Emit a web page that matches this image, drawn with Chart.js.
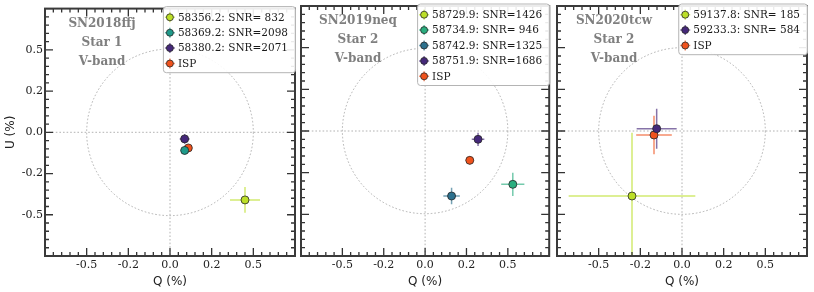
<!DOCTYPE html>
<html>
<head>
<meta charset="utf-8">
<script src="https://cdn.jsdelivr.net/npm/chart.js@4/dist/chart.umd.min.js"></script>
<style>
    html, body { margin: 0; padding: 0; background: #fff; }
    #wrap { position: relative; width: 814px; height: 292px; overflow: hidden; }
    canvas { position: absolute; top: 0; }
</style>
</head>
<body>
<div id="wrap">
    <canvas id="ffjChart" width="300" height="292" style="left:0px"></canvas>
    <canvas id="neqChart" width="258" height="292" style="left:296px"></canvas>
    <canvas id="tcwChart" width="262" height="292" style="left:552px"></canvas>
</div>
<script>
// tick positions on both axes and the (rounded) labels printed under them
const tickValues = [-0.5, -0.25, 0, 0.25, 0.5];
const tickLabels = ['-0.5', '-0.2', '0.0', '0.2', '0.5'];

// SN2018ffj - Star 1
const ffjLabels = ['58356.2: SNR= 832', '58369.2: SNR=2098', '58380.2: SNR=2071', 'ISP'];
const ffjQ = [0.45, 0.088, 0.088, 0.11];
const ffjU = [-0.41, -0.11, -0.04, -0.095];
const ffjQerr = [0.09, 0.025, 0.03, 0.015];
const ffjUerr = [0.078, 0.025, 0.03, 0.015];

// SN2019neq - Star 2 (first epoch falls outside the plotted window)
const neqLabels = ['58729.9: SNR=1426', '58734.9: SNR= 946', '58742.9: SNR=1325', '58751.9: SNR=1686', 'ISP'];
const neqQ = [null, 0.53, 0.16, 0.32, 0.27];
const neqU = [null, -0.32, -0.39, -0.05, -0.176];
const neqQerr = [null, 0.07, 0.05, 0.038, 0.025];
const neqUerr = [null, 0.07, 0.05, 0.04, 0.025];

// SN2020tcw - Star 2
const tcwLabels = ['59137.8: SNR= 185', '59233.3: SNR= 584', 'ISP'];
const tcwQ = [-0.30, -0.152, -0.168];
const tcwU = [-0.39, 0.014, -0.024];
const tcwQerr = [0.38, 0.12, 0.107];
const tcwUerr = [0.38, 0.12, 0.115];

const ffjColors = ['#bcdf27', '#1f9a8a', '#45287a', '#f0521c'];
const neqColors = ['#bcdf27', '#2aae7f', '#2c718e', '#45287a', '#f0521c'];
const tcwColors = ['#bcdf27', '#45287a', '#f0521c'];

const serif = '"DejaVu Serif", serif';
const sans = '"DejaVu Sans", sans-serif';

function fade(hex, a) {
    const n = parseInt(hex.slice(1), 16);
    return 'rgba(' + (n >> 16) + ',' + ((n >> 8) & 255) + ',' + (n & 255) + ',' + a + ')';
}

// draws the reference circle, error bars, framed axes with inward ticks, labels and legend
const polarFrame = {
    id: 'polarFrame',
    beforeDatasetsDraw(chart) {
        const ctx = chart.ctx;
        const area = chart.chartArea;
        const xs = chart.scales.x, ys = chart.scales.y;
        const cx = xs.getPixelForValue(0), cy = ys.getPixelForValue(0);
        const r = xs.getPixelForValue(0.5) - cx;

        ctx.save();
        ctx.beginPath();
        ctx.rect(area.left, area.top, area.right - area.left, area.bottom - area.top);
        ctx.clip();

        ctx.strokeStyle = '#a0a0a0';
        ctx.lineWidth = 0.8;
        ctx.setLineDash([1.6, 2]);
        ctx.beginPath();
        ctx.moveTo(area.left, cy); ctx.lineTo(area.right, cy);
        ctx.moveTo(cx, area.top); ctx.lineTo(cx, area.bottom);
        ctx.stroke();
        ctx.beginPath();
        ctx.arc(cx, cy, r, 0, Math.PI * 2);
        ctx.stroke();
        ctx.setLineDash([]);

        // error bars
        ctx.lineWidth = 1.5;
        chart.data.datasets.forEach(ds => {
            ds.data.forEach(p => {
                const px = xs.getPixelForValue(p.x), py = ys.getPixelForValue(p.y);
                ctx.strokeStyle = fade(ds.backgroundColor, 0.65);
                ctx.beginPath();
                ctx.moveTo(xs.getPixelForValue(p.x - p.qe), py);
                ctx.lineTo(xs.getPixelForValue(p.x + p.qe), py);
                ctx.moveTo(px, ys.getPixelForValue(p.y - p.ue));
                ctx.lineTo(px, ys.getPixelForValue(p.y + p.ue));
                ctx.stroke();
            });
        });
        ctx.restore();
    },
    afterDraw(chart, args, opts) {
        const ctx = chart.ctx;
        const area = chart.chartArea;
        const xs = chart.scales.x, ys = chart.scales.y;

        ctx.save();
        // inward ticks, every 0.05 with longer ones every 0.25
        ctx.strokeStyle = '#333';
        ctx.lineWidth = 1.3;
        ctx.beginPath();
        for (let k = -15; k <= 15; k++) {
            const v = k * 0.05;
            const len = k % 5 === 0 ? 8 : 4;
            const px = xs.getPixelForValue(v);
            const py = ys.getPixelForValue(v);
            ctx.moveTo(px, area.bottom); ctx.lineTo(px, area.bottom - len);
            ctx.moveTo(px, area.top); ctx.lineTo(px, area.top + len);
            ctx.moveTo(area.left, py); ctx.lineTo(area.left + len, py);
            ctx.moveTo(area.right, py); ctx.lineTo(area.right - len, py);
        }
        ctx.stroke();

        ctx.strokeStyle = '#3a3a3a';
        ctx.lineWidth = 2;
        ctx.strokeRect(area.left, area.top, area.right - area.left, area.bottom - area.top);

        // object / star / band text
        ctx.fillStyle = '#7f7f7f';
        ctx.font = 'bold 12px ' + serif;
        ctx.textAlign = 'center';
        ctx.textBaseline = 'middle';
        opts.tag.forEach((line, i) => {
            ctx.fillText(line, area.left + 57, area.top + 15 + i * 19);
        });

        // legend box in the upper right corner
        ctx.font = '10.5px ' + serif;
        const items = chart.data.datasets;
        const textW = Math.max(...items.map(ds => ctx.measureText(ds.label).width));
        const rowH = 15.4;
        const w = textW + 23;
        const h = items.length * rowH + 2.5;
        const x0 = area.right + 1 - w, y0 = area.top;
        ctx.fillStyle = 'rgba(255,255,255,0.9)';
        ctx.strokeStyle = '#b4b4b4';
        ctx.lineWidth = 1;
        ctx.beginPath();
        ctx.roundRect(x0 + 0.5, y0 - 2, w - 1, h + 2, 3);
        ctx.fill();
        ctx.stroke();

        ctx.textAlign = 'left';
        items.forEach((ds, i) => {
            const my = y0 + 8.7 + i * rowH;
            const mx = x0 + 7;
            ctx.strokeStyle = fade(ds.backgroundColor, 0.65);
            ctx.lineWidth = 1.5;
            ctx.beginPath();
            ctx.moveTo(mx - 5, my); ctx.lineTo(mx + 5, my);
            ctx.moveTo(mx, my - 5); ctx.lineTo(mx, my + 5);
            ctx.stroke();
            ctx.fillStyle = ds.backgroundColor;
            ctx.strokeStyle = '#262626';
            ctx.lineWidth = 0.8;
            ctx.beginPath();
            ctx.arc(mx, my, 3.5, 0, Math.PI * 2);
            ctx.fill();
            ctx.stroke();
            ctx.fillStyle = '#1a1a1a';
            ctx.fillText(ds.label, x0 + 15, my + 0.5);
        });
        ctx.restore();
    }
};

function makePanel(id, labels, qs, us, qErr, uErr, colors, tag, showY, yWidth, padRight) {
    const datasets = labels.map((label, i) => ({
        label: label,
        data: qs[i] === null ? [] : [{ x: qs[i], y: us[i], qe: qErr[i], ue: uErr[i] }],
        backgroundColor: colors[i],
        borderColor: '#262626',
        borderWidth: 0.8,
        pointRadius: 4,
        pointHoverRadius: 4
    }));

    return new Chart(document.getElementById(id), {
        type: 'scatter',
        data: { datasets: datasets },
        options: {
            responsive: false,
            animation: false,
            events: [],
            layout: { padding: { top: 6, right: padRight, left: 0, bottom: 0 } },
            plugins: {
                legend: { display: false },
                tooltip: { enabled: false },
                polarFrame: { tag: tag }
            },
            scales: {
                x: {
                    type: 'linear',
                    min: -0.75,
                    max: 0.75,
                    afterBuildTicks: axis => { axis.ticks = tickValues.map(v => ({ value: v })); },
                    afterFit: axis => { axis.height = 36; },
                    grid: { display: false, drawTicks: false },
                    border: { display: false },
                    ticks: {
                        callback: (v, i) => tickLabels[i],
                        font: { family: serif, size: 11 },
                        color: '#222',
                        padding: 3,
                        maxRotation: 0,
                        autoSkip: false
                    },
                    title: {
                        display: true,
                        text: 'Q (%)',
                        font: { family: sans, size: 12 },
                        color: '#222',
                        padding: { top: 0, bottom: 3 }
                    }
                },
                y: {
                    type: 'linear',
                    min: -0.75,
                    max: 0.75,
                    afterBuildTicks: axis => { axis.ticks = tickValues.map(v => ({ value: v })); },
                    afterFit: axis => { axis.width = yWidth; },
                    grid: { display: false, drawTicks: false },
                    border: { display: false },
                    ticks: {
                        display: showY,
                        callback: (v, i) => tickLabels[i],
                        font: { family: serif, size: 11 },
                        color: '#222',
                        padding: 2,
                        autoSkip: false
                    },
                    title: {
                        display: showY,
                        text: 'U (%)',
                        font: { family: sans, size: 12 },
                        color: '#222',
                        padding: { top: 4, bottom: 0 }
                    }
                }
            }
        },
        plugins: [polarFrame]
    });
}

makePanel('ffjChart', ffjLabels, ffjQ, ffjU, ffjQerr, ffjUerr, ffjColors,
    ['SN2018ffj', 'Star 1', 'V-band'], true, 45, 5);
makePanel('neqChart', neqLabels, neqQ, neqU, neqQerr, neqUerr, neqColors,
    ['SN2019neq', 'Star 2', 'V-band'], false, 5, 3);
makePanel('tcwChart', tcwLabels, tcwQ, tcwU, tcwQerr, tcwUerr, tcwColors,
    ['SN2020tcw', 'Star 2', 'V-band'], false, 5, 7);
</script>
</body>
</html>
